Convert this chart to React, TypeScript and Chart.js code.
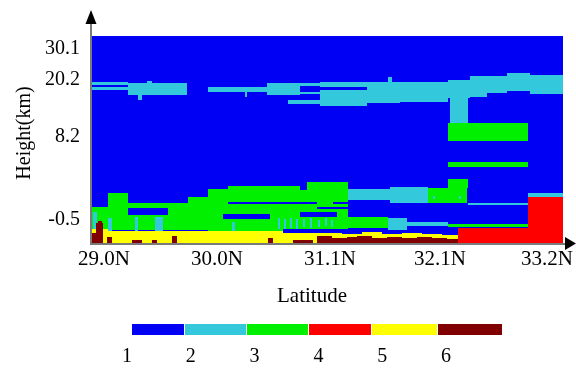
import React, { useEffect, useRef } from 'react';
import { Chart, registerables } from 'chart.js';

Chart.register(...registerables);

// ---- data ----
// x: profile index along the track (0..471), y: range bin (0..207)
const PROFILE_COUNT = 471;
const BIN_COUNT = 207;

const LAT_TICKS = [12, 125, 238, 348, 455];
const LAT_LABELS = ['29.0N', '30.0N', '31.1N', '32.1N', '33.2N'];
const HEIGHT_TICKS = [23, 106.5, 163.5, 194.5];
const HEIGHT_LABELS = ['-0.5', '8.2', '20.2', '30.1'];

const CLASS_LABELS = ['1', '2', '3', '4', '5', '6'];
const CLASS_COLORS = ['#0000f5', '#33c8dc', '#00f000', '#ff0000', '#ffff00', '#800000'];

type Cell = [number, number, number, number]; // [x0, x1, y0, y1]

const clearSky: Cell[] = [[0, 471, 0, 207]];

const upperCirrus: Cell[] = [
  [0, 36, 158, 161], [0, 36, 153, 156], [36, 95, 148, 160], [46, 50, 143, 148],
  [55, 60, 160, 162], [116, 175, 151, 156], [153, 155, 146, 151], [175, 208, 148, 160],
  [208, 228, 157, 160], [208, 228, 149, 151], [196, 243, 139, 143], [228, 275, 137, 161],
  [275, 308, 140, 161], [296, 300, 161, 166], [308, 356, 141, 161], [356, 378, 145, 163],
  [358, 376, 120, 145], [378, 395, 146, 167], [395, 415, 150, 167], [415, 438, 152, 170],
  [438, 471, 149, 168],
];

const lowerCloud: Cell[] = [
  [0, 16, 13, 36], [16, 36, 13, 50], [36, 96, 13, 40], [96, 116, 13, 46],
  [116, 136, 11, 54], [136, 208, 11, 57], [208, 215, 14, 53], [215, 256, 14, 61],
  [256, 296, 15, 26], [336, 375, 40, 55], [356, 376, 55, 64], [356, 436, 16, 19],
  [356, 436, 102, 120], [356, 436, 76, 81],
];

const midLayer: Cell[] = [
  [256, 298, 43, 54], [298, 336, 40, 56], [376, 436, 38, 40], [436, 471, 46, 50],
  [296, 315, 13, 25], [315, 356, 17, 21],
];

const clearGaps: Cell[] = [
  [36, 76, 28, 35], [131, 178, 24, 29], [136, 225, 39, 41], [241, 256, 39, 41],
  [225, 256, 34, 36], [208, 245, 26, 31], [225, 275, 153, 156], [191, 256, 10, 14],
];

const thinStreaks: Cell[] = [
  [1, 5, 11, 31], [16, 20, 10, 25], [43, 46, 10, 26], [63, 71, 10, 26], [140, 143, 12, 21],
  [186, 188, 14, 25], [192, 194, 14, 24], [198, 200, 15, 25], [204, 206, 14, 24],
  [211, 213, 16, 24], [218, 220, 15, 25], [226, 228, 16, 23], [233, 235, 17, 25],
  [239, 241, 16, 23], [341, 343, 44, 47], [367, 369, 44, 47],
];

const thickCloud: Cell[] = [[436, 471, 0, 46], [366, 436, 0, 15]];

const aerosol: Cell[] = [
  [0, 16, 0, 14], [16, 191, 0, 12], [191, 225, 0, 10], [225, 250, 5, 10], [250, 270, 4, 9],
  [270, 290, 5, 11], [290, 310, 4, 9], [310, 330, 5, 10], [330, 350, 4, 9], [350, 366, 4, 8],
];

const surface: Cell[] = [
  [0, 4, 0, 10], [4, 11, 0, 20], [6, 10, 0, 22], [15, 20, 0, 6], [40, 50, 0, 3],
  [60, 65, 0, 3], [80, 85, 0, 7], [176, 181, 0, 5], [201, 221, 0, 3], [225, 240, 0, 7],
  [240, 255, 0, 5], [255, 265, 0, 6], [265, 280, 0, 7], [280, 295, 0, 5], [295, 310, 0, 6],
  [310, 325, 0, 5], [325, 340, 0, 6], [340, 355, 0, 5], [355, 366, 0, 4],
];

// drawing order: [class, cells]
const LAYERS: [number, Cell[]][] = [
  [1, clearSky], [2, upperCirrus], [3, lowerCloud], [2, midLayer], [1, clearGaps],
  [2, thinStreaks], [4, thickCloud], [5, aerosol], [6, surface],
];

const FONT = 'Liberation Serif, Times New Roman, serif';

const cellsPlugin = {
  id: 'cells',
  beforeDatasetsDraw(chart: any) {
    const { ctx, chartArea, scales } = chart;
    const xs = scales.x;
    const ys = scales.y;
    ctx.save();
    ctx.beginPath();
    ctx.rect(chartArea.left, chartArea.top, chartArea.right - chartArea.left, chartArea.bottom - chartArea.top);
    ctx.clip();
    for (const [cls, cells] of LAYERS) {
      ctx.fillStyle = CLASS_COLORS[cls - 1];
      for (const [x0, x1, y0, y1] of cells) {
        const px0 = xs.getPixelForValue(x0);
        const px1 = xs.getPixelForValue(x1);
        const py0 = ys.getPixelForValue(y0);
        const py1 = ys.getPixelForValue(y1);
        ctx.fillRect(px0, py1, px1 - px0, py0 - py1);
      }
    }
    ctx.restore();
  },
};

const decorPlugin = {
  id: 'decor',
  afterDraw(chart: any) {
    const { ctx, chartArea } = chart;
    const { left, top, right, bottom } = chartArea;
    ctx.save();
    // axes
    ctx.strokeStyle = '#7a7a7a';
    ctx.lineWidth = 2;
    ctx.beginPath();
    ctx.moveTo(left - 1, bottom + 2);
    ctx.lineTo(left - 1, top - 14);
    ctx.moveTo(left - 2, bottom + 1);
    ctx.lineTo(right + 3, bottom + 1);
    ctx.stroke();
    ctx.fillStyle = '#000';
    ctx.beginPath();
    ctx.moveTo(left - 1, top - 26);
    ctx.lineTo(left - 6.5, top - 12);
    ctx.lineTo(left + 4.5, top - 12);
    ctx.closePath();
    ctx.fill();
    ctx.beginPath();
    ctx.moveTo(right + 13, bottom + 0.5);
    ctx.lineTo(right + 2, bottom - 6);
    ctx.lineTo(right + 2, bottom + 7);
    ctx.closePath();
    ctx.fill();

    // axis titles
    ctx.fillStyle = '#000';
    ctx.font = `21px ${FONT}`;
    ctx.textAlign = 'center';
    ctx.textBaseline = 'middle';
    ctx.fillText('Latitude', 312, 296);
    ctx.font = `20px ${FONT}`;
    ctx.save();
    ctx.translate(25, 133);
    ctx.rotate(-Math.PI / 2);
    ctx.fillText('Height(km)', 0, 0);
    ctx.restore();

    // colour-bar legend
    const bounds = [132, 184, 246, 308, 371, 437, 502];
    CLASS_COLORS.forEach((c, i) => {
      ctx.fillStyle = c;
      ctx.fillRect(bounds[i] + (i ? 1 : 0), 324, bounds[i + 1] - bounds[i] - (i ? 1 : 0), 11);
    });
    ctx.fillStyle = '#000';
    CLASS_LABELS.forEach((t, i) => {
      ctx.fillText(t, 127 + i * 63.8, 357);
    });
    ctx.restore();
  },
};

export default function App() {
  const ref = useRef<HTMLCanvasElement | null>(null);
  useEffect(() => {
    document.body.style.margin = '0';
    const canvas = ref.current;
    if (!canvas) return;
    const chart = new Chart(canvas, {
      type: 'scatter',
      data: { datasets: [{ data: [], pointRadius: 0 }] },
      options: {
        animation: false,
        responsive: false,
        maintainAspectRatio: false,
        events: [],
        layout: { padding: { left: 0, top: 36, right: 13, bottom: 56 } },
        plugins: { legend: { display: false }, tooltip: { enabled: false } },
        scales: {
          x: {
            type: 'linear',
            min: 0,
            max: PROFILE_COUNT,
            grid: { display: false, drawTicks: false },
            border: { display: false },
            afterBuildTicks: (s: any) => { s.ticks = LAT_TICKS.map((value) => ({ value })); },
            afterFit: (s: any) => { s.height = 70; s.paddingLeft = 0; s.paddingRight = 0; },
            ticks: {
              autoSkip: false,
              maxRotation: 0,
              padding: 4,
              color: '#000',
              font: { family: FONT, size: 21 },
              callback: (v: any) => LAT_LABELS[LAT_TICKS.indexOf(Number(v))] ?? '',
            },
          },
          y: {
            type: 'linear',
            min: 0,
            max: BIN_COUNT,
            grid: { display: false, drawTicks: false },
            border: { display: false },
            afterBuildTicks: (s: any) => { s.ticks = HEIGHT_TICKS.map((value) => ({ value })); },
            afterFit: (s: any) => { s.width = 92; s.paddingTop = 0; s.paddingBottom = 0; },
            ticks: {
              autoSkip: false,
              padding: 12,
              color: '#000',
              font: { family: FONT, size: 20 },
              callback: (v: any) => HEIGHT_LABELS[HEIGHT_TICKS.indexOf(Number(v))] ?? '',
            },
          },
        },
      },
      plugins: [cellsPlugin, decorPlugin],
    });
    return () => chart.destroy();
  }, []);
  return (
    <div style={{ position: 'absolute', left: 0, top: 0, width: 576, height: 369, background: '#fff' }}>
      <canvas ref={ref} width={576} height={369} style={{ display: 'block', width: 576, height: 369 }} />
    </div>
  );
}
